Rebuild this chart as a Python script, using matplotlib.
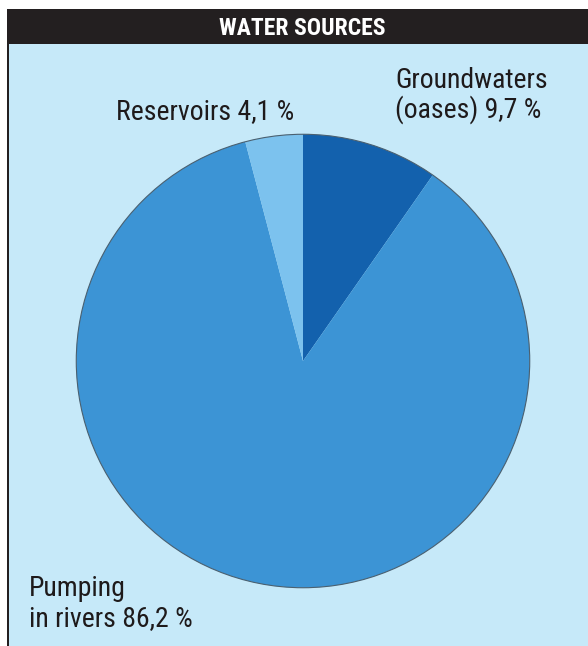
import matplotlib.pyplot as plt
from matplotlib.patches import Rectangle, Circle

plt.rcParams['font.family'] = ['Roboto Condensed', 'Archivo Narrow', 'DejaVu Sans']
plt.rcParams['font.stretch'] = 'condensed'

sources = ['Groundwaters\n(oases)', 'Pumping\nin rivers', 'Reservoirs']
shares = [9.7, 86.2, 4.1]
colors = ['#1361ad', '#3c94d5', '#7cc2ee']
title = 'WATER SOURCES'

W, H = 588, 646
fig = plt.figure(figsize=(W / 100, H / 100), dpi=100)
fig.patch.set_facecolor('white')


def fx(px):
    return px / W


def fy(py):
    return 1 - py / H


def pct(v):
    return '{} %'.format(str(v).replace('.', ','))


# background panel, title bar and left border
fig.patches.append(Rectangle((fx(8), 0), 1 - fx(8), fy(44), transform=fig.transFigure,
                             facecolor='#c6e9f9', edgecolor='none', zorder=0))
fig.patches.append(Rectangle((fx(7), fy(44)), 1 - fx(7), fy(9) - fy(44), transform=fig.transFigure,
                             facecolor='#231f20', edgecolor='none', zorder=1))
fig.patches.append(Rectangle((fx(7), 0), fx(1.6), fy(9), transform=fig.transFigure,
                             facecolor='#231f20', edgecolor='none', zorder=1))
fig.text(fx(302), fy(35), title, color='white', fontsize=17, fontweight='bold',
         ha='center', va='baseline')

cx, cy, r = 303, 361, 229
ax = fig.add_axes([fx(cx - r), fy(cy + r), fx(2 * r), (2 * r) / H], zorder=3)
ax.patch.set_visible(False)
ax.pie(shares, colors=colors, startangle=90, counterclock=False, radius=1,
       wedgeprops=dict(edgecolor='none', linewidth=0))
ax.add_patch(Circle((0, 0), 1, facecolor='none', edgecolor='#4a6070', linewidth=0.8))
ax.set_xlim(-1.01, 1.01)
ax.set_ylim(-1.01, 1.01)
ax.set_aspect('equal')
ax.axis('off')

lab_kw = dict(color='#1e1a1b', fontsize=20, va='baseline')
gw1, gw2 = sources[0].split('\n')
pu1, pu2 = sources[1].split('\n')
fig.text(fx(294), fy(119), '{} {}'.format(sources[2], pct(shares[2])), ha='right', **lab_kw)
fig.text(fx(395), fy(88), gw1, ha='left', **lab_kw)
fig.text(fx(395), fy(118), '{} {}'.format(gw2, pct(shares[0])), ha='left', **lab_kw)
fig.text(fx(29), fy(596), pu1, ha='left', **lab_kw)
fig.text(fx(29), fy(626), '{} {}'.format(pu2, pct(shares[1])), ha='left', **lab_kw)

fig.savefig('out.png', dpi=100)
